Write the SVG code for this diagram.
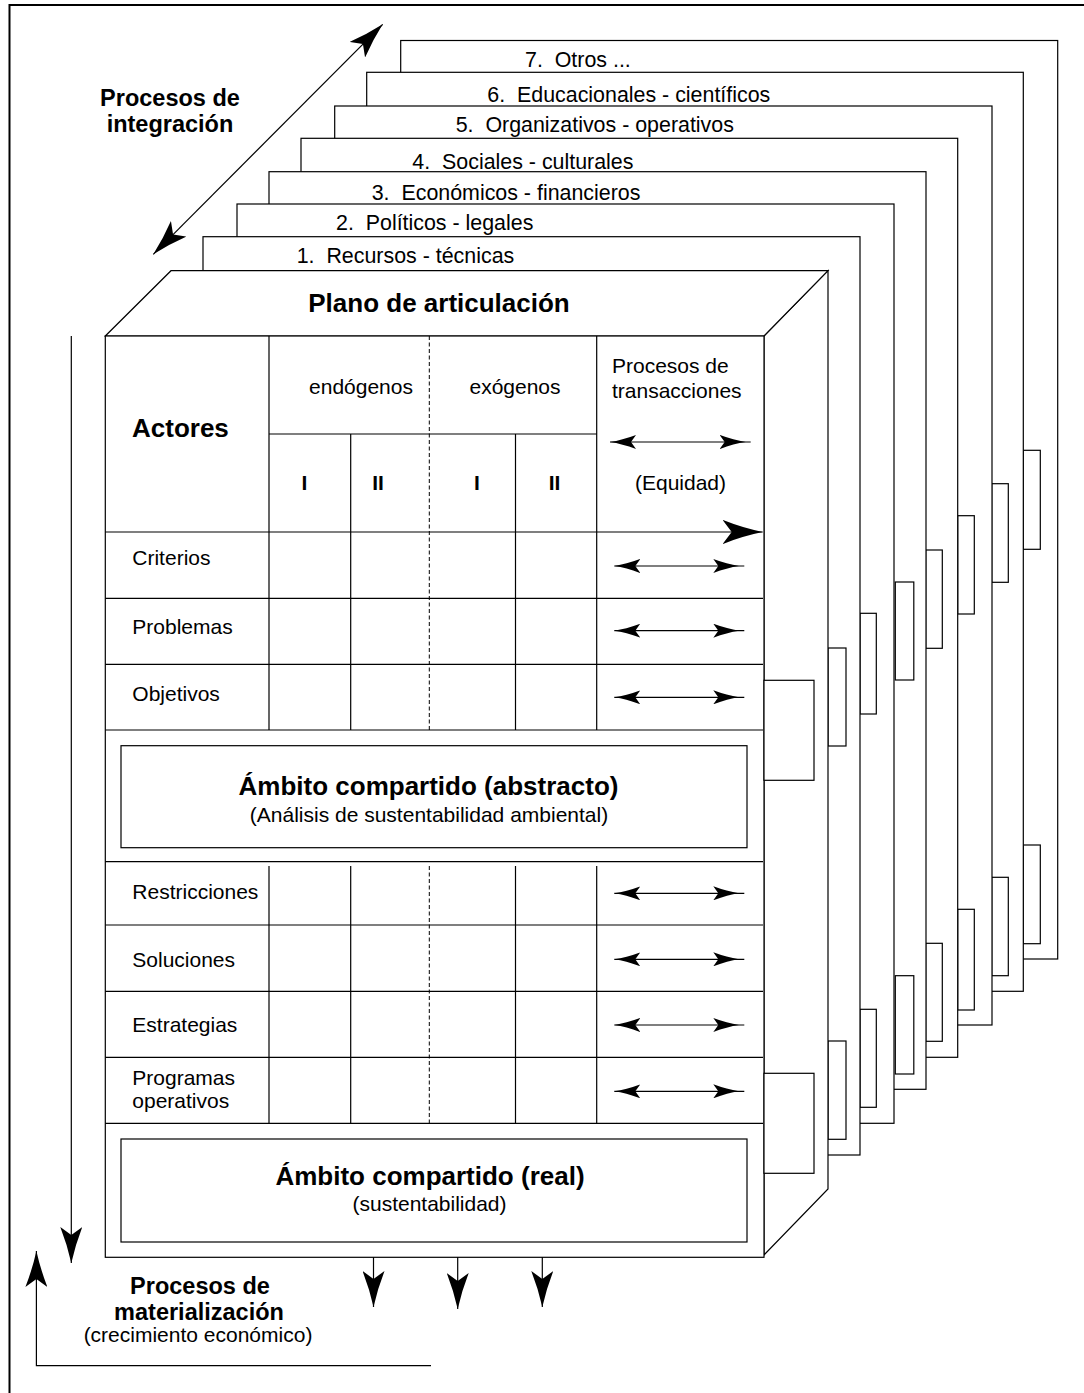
<svg xmlns="http://www.w3.org/2000/svg" width="1084" height="1393" viewBox="0 0 1084 1393">
<defs>
<style>
.ln{fill:none;stroke:#000;stroke-width:1.2}
.box{fill:#fff;stroke:#000;stroke-width:1.2}
.dash{fill:none;stroke:#000;stroke-width:1;stroke-dasharray:4 2.5}
.t{font-family:"Liberation Sans",Arial,sans-serif;font-size:21px;fill:#000}
.lab{font-family:"Liberation Sans",Arial,sans-serif;font-size:21.4px;fill:#000}
.b{font-family:"Liberation Sans",Arial,sans-serif;font-weight:bold;fill:#000}
.m{text-anchor:middle}
</style>
<marker id="bh" viewBox="0 0 36 22" refX="36" refY="11" markerWidth="36" markerHeight="22" markerUnits="userSpaceOnUse" orient="auto-start-reverse"><path d="M36,11 Q18,7 0,0 L8,11 L0,22 Q18,15 36,11 Z" fill="#000"/></marker>
<marker id="hh" viewBox="0 0 40 24" refX="40" refY="12" markerWidth="40" markerHeight="24" markerUnits="userSpaceOnUse" orient="auto"><path d="M40,12 Q20,8 0,0 L9,12 L0,24 Q20,16 40,12 Z" fill="#000"/></marker>
<marker id="ss" viewBox="0 0 26 14" refX="26" refY="7" markerWidth="26" markerHeight="14" markerUnits="userSpaceOnUse" orient="auto-start-reverse"><path d="M26,7 Q14,5.2 0,0 L5,7 L0,14 Q14,8.8 26,7 Z" fill="#000"/></marker>
<marker id="se" viewBox="0 0 26 14" refX="31" refY="7" markerWidth="26" markerHeight="14" markerUnits="userSpaceOnUse" orient="auto"><path d="M26,7 Q14,5.2 0,0 L5,7 L0,14 Q14,8.8 26,7 Z" fill="#000"/></marker>
</defs>
<rect width="1084" height="1393" fill="#fff"/>
<path id="frame" d="M9.5,1393 V5 H1084" fill="none" stroke="#000" stroke-width="2"/>

<g id="layer7">
<rect class="box" x="400.7" y="40.5" width="657" height="918.5"/>
<rect class="box" x="1023.3" y="450.3" width="17" height="99"/>
<rect class="box" x="1023.3" y="845" width="17" height="98.7"/>
<text class="lab" x="525" y="66.5" xml:space="preserve">7.  Otros ...</text>
</g>
<g id="layer6">
<rect class="box" x="366.7" y="72.3" width="656.6" height="919"/>
<rect class="box" x="991.7" y="483.7" width="16.6" height="98.6"/>
<rect class="box" x="991.7" y="877.3" width="16.6" height="98.4"/>
<text class="lab" x="487.3" y="101.5" xml:space="preserve">6.  Educacionales - científicos</text>
</g>
<g id="layer5">
<rect class="box" x="334.7" y="106" width="657.3" height="919"/>
<rect class="box" x="957.7" y="515.7" width="16.6" height="98.3"/>
<rect class="box" x="957.7" y="909.3" width="16.6" height="100.7"/>
<text class="lab" x="455.7" y="132" xml:space="preserve">5.  Organizativos - operativos</text>
</g>
<g id="layer4">
<rect class="box" x="301" y="138.3" width="656.7" height="919"/>
<rect class="box" x="925.7" y="550" width="16.6" height="98.3"/>
<rect class="box" x="925.7" y="943.3" width="16.6" height="98"/>
<text class="lab" x="412.3" y="168.5" xml:space="preserve">4.  Sociales - culturales</text>
</g>
<g id="layer3">
<rect class="box" x="269" y="171.7" width="657" height="917.6"/>
<rect class="box" x="895.3" y="582" width="18.5" height="98"/>
<rect class="box" x="895.3" y="975.7" width="18.5" height="98.3"/>
<text class="lab" x="371.7" y="199.5" xml:space="preserve">3.  Económicos - financieros</text>
</g>
<g id="layer2">
<rect class="box" x="237" y="204" width="657" height="919.3"/>
<rect class="box" x="860" y="613.3" width="16.3" height="100.7"/>
<rect class="box" x="860" y="1009.3" width="16.3" height="98"/>
<text class="lab" x="336" y="229.5" xml:space="preserve">2.  Políticos - legales</text>
</g>
<g id="layer1">
<rect class="box" x="203" y="236.7" width="657" height="918.3"/>
<rect class="box" x="828" y="648" width="18" height="98"/>
<rect class="box" x="828" y="1041" width="18" height="98.3"/>
<text class="lab" x="296.7" y="263" xml:space="preserve">1.  Recursos - técnicas</text>
</g>

<g id="front-box">
<polygon class="box" points="764,336 828,270.7 828,1189 764,1255"/>
<polygon class="box" points="171,270.7 828,270.7 764,336 105.3,336"/>
<rect class="box" x="105.3" y="336" width="658.7" height="921.3"/>
<rect class="box" x="764" y="680.3" width="50" height="100"/>
<rect class="box" x="764" y="1073.3" width="50" height="100"/>
<text class="b m" x="439" y="311.7" font-size="26">Plano de articulación</text>
</g>

<g id="table">
<path class="ln" d="M269,336 V730 M596.7,336 V730 M350.7,434 V730 M515.5,434 V730 M269,434 H596.7"/>
<path class="dash" d="M429.3,336 V730 M429.3,866 V1123.3"/>
<path class="ln" d="M269,866 V1123.3 M350.7,866 V1123.3 M515.5,866 V1123.3 M596.7,866 V1123.3"/>
<path class="ln" d="M105.3,598.3 H763 M105.3,664.3 H763 M105.3,730 H763 M105.3,861.7 H763 M105.3,925 H763 M105.3,991.3 H763 M105.3,1057.3 H763 M105.3,1123.3 H763"/>
<text class="b" x="132" y="436.7" font-size="26">Actores</text>
<text class="t m" x="361" y="394">endógenos</text>
<text class="t m" x="515" y="394">exógenos</text>
<text class="t" x="612" y="373.3">Procesos de</text>
<text class="t" x="612" y="398.3">transacciones</text>
<text class="t m" x="680.5" y="490">(Equidad)</text>
<text class="b m" x="304.5" y="490" font-size="21">I</text>
<text class="b m" x="378" y="490" font-size="21">II</text>
<text class="b m" x="477" y="490" font-size="21">I</text>
<text class="b m" x="554.5" y="490" font-size="21">II</text>
<text class="t" x="132.3" y="565">Criterios</text>
<text class="t" x="132.3" y="634.3">Problemas</text>
<text class="t" x="132.3" y="700.7">Objetivos</text>
<text class="t" x="132.3" y="899.3">Restricciones</text>
<text class="t" x="132.3" y="967.3">Soluciones</text>
<text class="t" x="132.3" y="1031.7">Estrategias</text>
<text class="t" x="132.3" y="1085">Programas</text>
<text class="t" x="132.3" y="1108.3">operativos</text>
</g>

<g id="ambito-abstracto">
<rect class="box" x="121" y="745.7" width="626" height="102"/>
<text class="b m" x="428.5" y="795" font-size="26">Ámbito compartido (abstracto)</text>
<text class="t m" x="429" y="822">(Análisis de sustentabilidad ambiental)</text>
</g>
<g id="ambito-real">
<rect class="box" x="121" y="1139" width="626" height="103"/>
<text class="b m" x="430" y="1185" font-size="26">Ámbito compartido (real)</text>
<text class="t m" x="429.5" y="1211">(sustentabilidad)</text>
</g>

<g id="label-integracion">
<text class="b m" x="170" y="105.5" font-size="23.5">Procesos de</text>
<text class="b m" x="170" y="131.5" font-size="23.5">integración</text>
</g>
<g id="label-materializacion">
<text class="b m" x="200" y="1293.5" font-size="23.5">Procesos de</text>
<text class="b m" x="199" y="1320" font-size="23.5">materialización</text>
<text class="t m" x="198" y="1341.5" font-size="16">(crecimiento económico)</text>
</g>

<g id="connectors">
<line class="ln" x1="153.3" y1="254.3" x2="382.7" y2="24.3" marker-start="url(#bh)" marker-end="url(#bh)"/>
<line class="ln" x1="71.3" y1="336" x2="71.3" y2="1263" marker-end="url(#bh)"/>
<polyline class="ln" points="431,1365.7 36.4,1365.7 36.4,1251" marker-end="url(#bh)"/>
<line class="ln" x1="373.5" y1="1257" x2="373.5" y2="1307" marker-end="url(#bh)"/>
<line class="ln" x1="457.7" y1="1257" x2="457.7" y2="1309" marker-end="url(#bh)"/>
<line class="ln" x1="542.3" y1="1257" x2="542.3" y2="1307" marker-end="url(#bh)"/>
<line class="ln" x1="105.3" y1="532" x2="762.7" y2="532" stroke-width="1.6" marker-end="url(#hh)"/>
<line class="ln" x1="610" y1="442" x2="750.7" y2="442" marker-start="url(#ss)" marker-end="url(#se)"/>
<line class="ln" x1="614.3" y1="566" x2="744.3" y2="566" marker-start="url(#ss)" marker-end="url(#se)"/>
<line class="ln" x1="614.3" y1="630.7" x2="744.3" y2="630.7" marker-start="url(#ss)" marker-end="url(#se)"/>
<line class="ln" x1="614.3" y1="697.3" x2="744.3" y2="697.3" marker-start="url(#ss)" marker-end="url(#se)"/>
<line class="ln" x1="614.3" y1="893.3" x2="744.3" y2="893.3" marker-start="url(#ss)" marker-end="url(#se)"/>
<line class="ln" x1="614.3" y1="959.3" x2="744.3" y2="959.3" marker-start="url(#ss)" marker-end="url(#se)"/>
<line class="ln" x1="614.3" y1="1025" x2="744.3" y2="1025" marker-start="url(#ss)" marker-end="url(#se)"/>
<line class="ln" x1="614.3" y1="1091.3" x2="744.3" y2="1091.3" marker-start="url(#ss)" marker-end="url(#se)"/>
</g>
</svg>
